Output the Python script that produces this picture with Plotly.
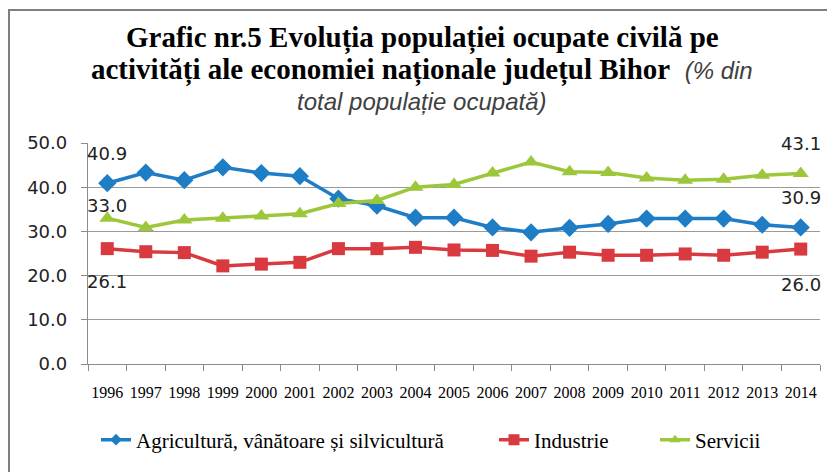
import plotly.graph_objects as go

years = [str(y) for y in range(1996, 2015)]
agricultura = [40.9, 43.3, 41.6, 44.5, 43.2, 42.5, 37.4, 35.8, 33.1, 33.1, 30.9, 29.8, 30.8, 31.7, 32.9, 32.9, 32.9, 31.5, 30.9]
industrie = [26.1, 25.4, 25.2, 22.2, 22.6, 23.0, 26.1, 26.1, 26.4, 25.8, 25.7, 24.4, 25.3, 24.6, 24.6, 24.9, 24.6, 25.3, 26.0]
servicii = [33.0, 30.9, 32.6, 33.0, 33.5, 34.0, 36.3, 37.0, 40.0, 40.6, 43.2, 45.7, 43.5, 43.3, 42.1, 41.6, 41.8, 42.7, 43.1]
y_ticks = [0, 10, 20, 30, 40, 50]

names = ["Agricultură, vânătoare și silvicultură", "Industrie", "Servicii"]
colors = ["#1f7dc6", "#d83a3f", "#9dc73b"]
symbols = ["diamond", "square", "triangle-up"]
sizes = [14, 13, 14]
legend_sizes = [9, 11, 10]

# page offset (body margin) handled by shifting figure coordinates
OFF = 8
FW, FH = 835 - OFF, 472 - OFF
L, T, W, H = 88 - OFF, 143 - OFF, 732, 221

def py(page_y):
    return 1 + (T - (page_y - OFF)) / H

def px(page_x):
    return (page_x - OFF - L) / W

legend_ids = ["legend", "legend2", "legend3"]

fig = go.Figure()
for vals, name, c, s, sz, lsz, lg in zip([agricultura, industrie, servicii], names, colors,
                                         symbols, sizes, legend_sizes, legend_ids):
    fig.add_trace(go.Scatter(
        x=years, y=vals, name=name, mode="lines+markers",
        line=dict(color=c, width=3.5),
        marker=dict(symbol=s, size=sz, color=c),
        showlegend=False,
    ))
    # legend entry with smaller marker (no data drawn)
    fig.add_trace(go.Scatter(
        x=[None], y=[None], name=name, mode="lines+markers",
        line=dict(color=c, width=3.5),
        marker=dict(symbol=s, size=lsz, color=c),
        showlegend=True, legend=lg,
    ))

# data labels for first and last points (category index positions)
label_font = dict(family="DejaVu Sans", size=18, color="#222222")
first, last = 0, len(years) - 1
labels = [
    (first, agricultura[first], 30),
    (first, servicii[first], 13),
    (first, industrie[first], -33),
    (last, servicii[last], 30),
    (last, agricultura[last], 30),
    (last, industrie[last], -35),
]
for x, y, ys in labels:
    fig.add_annotation(x=x, y=y, text=f"{y:.1f}", showarrow=False, yshift=ys,
                       font=label_font, xref="x", yref="y")

# title lines
bold_font = dict(family="Liberation Serif", size=29, color="#000000")
ital = "<span style='font-family:Liberation Sans;font-style:italic;font-size:24px;color:#404040'>{}</span>"
title_lines = [
    ("<b>Grafic nr.5 Evoluția populației ocupate civilă pe</b>", 38),
    ("<b>activități ale economiei naționale județul Bihor</b>&nbsp; " + ital.format("(% din"), 70),
    (ital.format("total populație ocupată)"), 101),
]
for txt, ypx in title_lines:
    fig.add_annotation(x=px(422), y=py(ypx), xref="paper", yref="paper",
                       text=txt, showarrow=False, xanchor="center", yanchor="middle",
                       font=bold_font)

# outer frame
fig.add_shape(type="rect", xref="paper", yref="paper",
              x0=px(9), x1=px(860), y0=py(500), y1=py(10),
              line=dict(color="#7f7f7f", width=2), fillcolor="rgba(0,0,0,0)", layer="below")

legend_common = dict(orientation="h", xanchor="left", yanchor="middle", y=py(440),
                     font=dict(family="Liberation Serif", size=21, color="#000000"),
                     bgcolor="rgba(0,0,0,0)", borderwidth=0)

fig.update_layout(
    width=FW, height=FH,
    margin=dict(l=L, r=FW - L - W, t=T, b=FH - T - H, autoexpand=False, pad=0),
    paper_bgcolor="white", plot_bgcolor="white",
    showlegend=True,
    legend=dict(x=px(96), **legend_common),
    legend2=dict(x=px(494), **legend_common),
    legend3=dict(x=px(655), **legend_common),
    xaxis=dict(type="category", tickson="boundaries", ticks="outside", ticklen=6,
               tickcolor="#8c8c8c", showline=True, linecolor="#8c8c8c", linewidth=1.3,
               showgrid=False, tickangle=0,
               tickfont=dict(family="Liberation Serif", size=16, color="#000000"),
               ticklabelstandoff=14, range=[-0.5, 18.5]),
    yaxis=dict(range=[0, 50], tickvals=y_ticks, tickformat=".1f", ticks="outside", ticklen=6,
               tickcolor="#8c8c8c", showline=True, linecolor="#8c8c8c", linewidth=1.3,
               showgrid=True, gridcolor="#9a9a9a", gridwidth=1.3, zeroline=False,
               tickfont=dict(family="DejaVu Sans", size=18, color="#222222"),
               ticklabelstandoff=10),
)

fig.write_html("out.html")
